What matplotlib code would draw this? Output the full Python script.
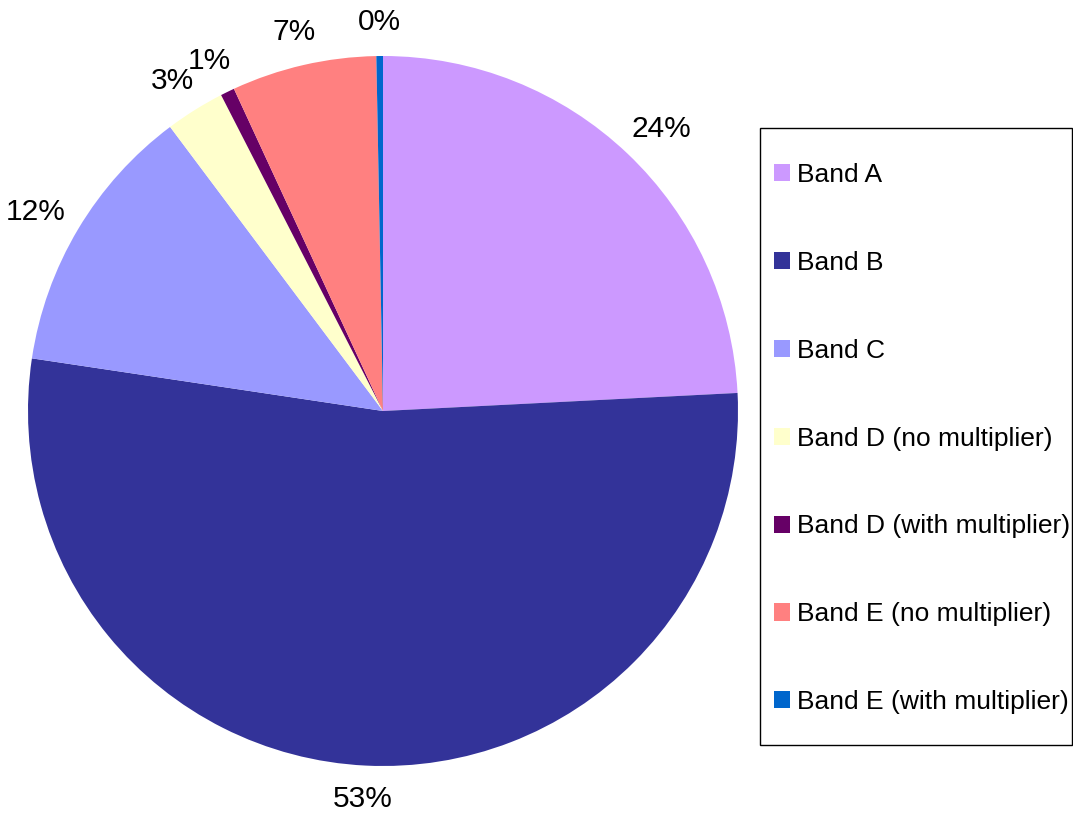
import matplotlib
matplotlib.use("Agg")
import matplotlib.pyplot as plt
import numpy as np
from matplotlib.patches import Rectangle

labels = ["Band A", "Band B", "Band C", "Band D (no multiplier)",
          "Band D (with multiplier)", "Band E (no multiplier)", "Band E (with multiplier)"]
shares = [24.2, 53.2, 12.4, 2.7, 0.64, 6.6, 0.3]
colors = ["#CC99FF", "#333399", "#9999FF", "#FFFFCC", "#660066", "#FF8080", "#0066CC"]

plt.rcParams['font.family'] = ['Liberation Sans', 'DejaVu Sans']

W, H = 1073, 814
fig = plt.figure(figsize=(W / 100, H / 100), dpi=100)
cx, cy, r = 383, 411, 355
ax = fig.add_axes([(cx - r) / W, (H - cy - r) / H, 2 * r / W, 2 * r / H])

wedges, texts = ax.pie(shares, colors=colors, startangle=90, counterclock=False,
                       wedgeprops=dict(linewidth=0))
ax.set_xlim(-1, 1)
ax.set_ylim(-1, 1)
ax.set_aspect('equal')

# percentage labels: nearest corner of the text box sits just outside the rim
total = sum(shares)
renderer = fig.canvas.get_renderer()
R = 1.056
for w, v in zip(wedges, shares):
    th = np.deg2rad((w.theta1 + w.theta2) / 2)
    t = ax.text(0, 0, "%d%%" % round(v / total * 100), fontsize=21.5,
                ha='center', va='center')
    bb = t.get_window_extent(renderer)
    dx = bb.width / 2 / r * np.cos(th)
    dy = bb.height / 2 / r * np.sin(th)
    t.set_position((R * np.cos(th) + dx, R * np.sin(th) + dy))

# legend box
fig.patches.append(Rectangle((760 / W, 1 - 745 / H), 312 / W, 617 / H,
                             transform=fig.transFigure, fill=False,
                             edgecolor='black', linewidth=1.0))
leg = fig.legend(wedges, labels, loc='upper left',
                 bbox_to_anchor=(774 / W, 1 - 163 / H),
                 fontsize=19, frameon=False,
                 handlelength=0.62, handleheight=0.62, handletextpad=0.25,
                 labelspacing=2.42, borderpad=0, borderaxespad=0)

fig.savefig("out.png", dpi=100)
